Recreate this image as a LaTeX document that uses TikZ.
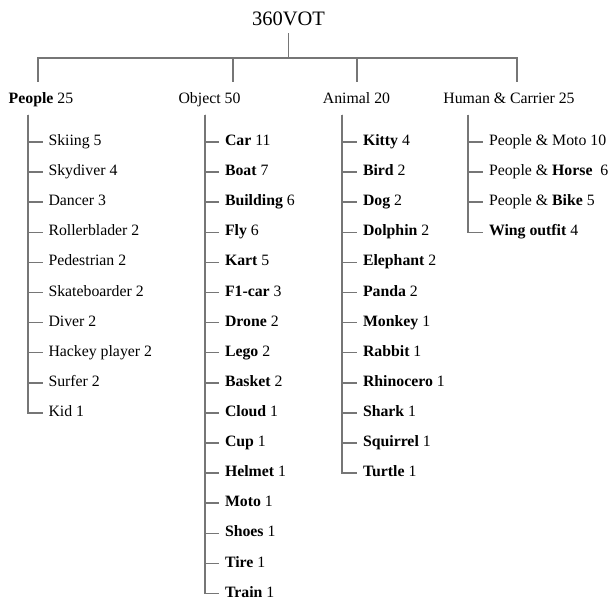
\documentclass[tikz,border=0pt]{standalone}
\usepackage{fontspec}
\setmainfont{Liberation Serif}
\definecolor{linegray}{RGB}{118,118,118}
\tikzset{
  branch/.style={draw=linegray, line width=1.5pt},
  leaf/.style={branch, shorten >=6pt},
  item/.style={anchor=base west, inner sep=0pt, outer sep=0pt},
  group/.style={anchor=base, inner sep=0pt, outer sep=0pt},
}
\begin{document}
\fontsize{15.8}{19}\selectfont
\begin{tikzpicture}[x=1pt, y=-1pt]
  \useasboundingbox (0,0) rectangle (610,601);
  \node[group, inner ysep=7pt, font=\fontsize{20.5}{24}\selectfont] (vot) at (288.5,26) {360VOT};
  \coordinate (bar) at (288.5,58);

  \node[group] (people) at (41,103.5) {\textbf{People} 25};
  \node[group] (object) at (209.5,103.5) {Object 50};
  \node[group] (animal) at (356.5,103.5) {Animal 20};
  \node[group] (human) at (509,103.5) {Human \& Carrier 25};

  \coordinate (people-top) at (38,82);
  \coordinate (object-top) at (233,82);
  \coordinate (animal-top) at (357,82);
  \coordinate (human-top) at (517,82);

  \coordinate (people-t) at (28,115);
  \coordinate (object-t) at (205,115);
  \coordinate (animal-t) at (342,115);
  \coordinate (human-t) at (468,115);

  \node[item] (skiing) at (48.5,145.6) {Skiing 5};
  \node[item] (skydiver) at (48.5,175.7) {Skydiver 4};
  \node[item] (dancer) at (48.5,205.8) {Dancer 3};
  \node[item] (roller) at (48.5,235.9) {Rollerblader 2};
  \node[item] (pedestrian) at (48.5,266.0) {Pedestrian 2};
  \node[item] (skate) at (48.5,296.1) {Skateboarder 2};
  \node[item] (diver) at (48.5,326.2) {Diver 2};
  \node[item] (hackey) at (48.5,356.3) {Hackey player 2};
  \node[item] (surfer) at (48.5,386.4) {Surfer 2};
  \node[item] (kid) at (48.5,416.5) {Kid 1};

  \node[item] (car) at (225,145.6) {\textbf{Car} 11};
  \node[item] (boat) at (225,175.7) {\textbf{Boat} 7};
  \node[item] (building) at (225,205.8) {\textbf{Building} 6};
  \node[item] (fly) at (225,235.9) {\textbf{Fly} 6};
  \node[item] (kart) at (225,266.0) {\textbf{Kart} 5};
  \node[item] (f1) at (225,296.1) {\textbf{F1-car} 3};
  \node[item] (drone) at (225,326.2) {\textbf{Drone} 2};
  \node[item] (lego) at (225,356.3) {\textbf{Lego} 2};
  \node[item] (basket) at (225,386.4) {\textbf{Basket} 2};
  \node[item] (cloud) at (225,416.5) {\textbf{Cloud} 1};
  \node[item] (cup) at (225,446.6) {\textbf{Cup} 1};
  \node[item] (helmet) at (225,476.7) {\textbf{Helmet} 1};
  \node[item] (moto) at (225,506.8) {\textbf{Moto} 1};
  \node[item] (shoes) at (225,536.9) {\textbf{Shoes} 1};
  \node[item] (tire) at (225,567.0) {\textbf{Tire} 1};
  \node[item] (train) at (225,597.1) {\textbf{Train} 1};

  \node[item] (kitty) at (363,145.6) {\textbf{Kitty} 4};
  \node[item] (bird) at (363,175.7) {\textbf{Bird} 2};
  \node[item] (dog) at (363,205.8) {\textbf{Dog} 2};
  \node[item] (dolphin) at (363,235.9) {\textbf{Dolphin} 2};
  \node[item] (elephant) at (363,266.0) {\textbf{Elephant} 2};
  \node[item] (panda) at (363,296.1) {\textbf{Panda} 2};
  \node[item] (monkey) at (363,326.2) {\textbf{Monkey} 1};
  \node[item] (rabbit) at (363,356.3) {\textbf{Rabbit} 1};
  \node[item] (rhino) at (363,386.4) {\textbf{Rhinocero} 1};
  \node[item] (shark) at (363,416.5) {\textbf{Shark} 1};
  \node[item] (squirrel) at (363,446.6) {\textbf{Squirrel} 1};
  \node[item] (turtle) at (363,476.7) {\textbf{Turtle} 1};

  \node[item] (pmoto) at (489,145.6) {People \& Moto 10};
  \node[item] (phorse) at (489,175.7) {People \& \textbf{Horse}\ \ 6};
  \node[item] (pbike) at (489,205.8) {People \& \textbf{Bike} 5};
  \node[item] (wing) at (489,235.9) {\textbf{Wing outfit} 4};

  \draw[branch] (vot.south) -- (bar);
  \draw[branch] (people-top) |- (bar) -| (human-top);
  \draw[branch] (object-top) -- (object-top |- bar);
  \draw[branch] (animal-top) -- (animal-top |- bar);

  \draw[leaf] (people-t) |- (skiing.mid west);
  \draw[leaf] (people-t) |- (skydiver.mid west);
  \draw[leaf] (people-t) |- (dancer.mid west);
  \draw[leaf] (people-t) |- (roller.mid west);
  \draw[leaf] (people-t) |- (pedestrian.mid west);
  \draw[leaf] (people-t) |- (skate.mid west);
  \draw[leaf] (people-t) |- (diver.mid west);
  \draw[leaf] (people-t) |- (hackey.mid west);
  \draw[leaf] (people-t) |- (surfer.mid west);
  \draw[leaf] (people-t) |- (kid.mid west);

  \draw[leaf] (object-t) |- (car.mid west);
  \draw[leaf] (object-t) |- (boat.mid west);
  \draw[leaf] (object-t) |- (building.mid west);
  \draw[leaf] (object-t) |- (fly.mid west);
  \draw[leaf] (object-t) |- (kart.mid west);
  \draw[leaf] (object-t) |- (f1.mid west);
  \draw[leaf] (object-t) |- (drone.mid west);
  \draw[leaf] (object-t) |- (lego.mid west);
  \draw[leaf] (object-t) |- (basket.mid west);
  \draw[leaf] (object-t) |- (cloud.mid west);
  \draw[leaf] (object-t) |- (cup.mid west);
  \draw[leaf] (object-t) |- (helmet.mid west);
  \draw[leaf] (object-t) |- (moto.mid west);
  \draw[leaf] (object-t) |- (shoes.mid west);
  \draw[leaf] (object-t) |- (tire.mid west);
  \draw[leaf] (object-t) |- (train.mid west);

  \draw[leaf] (animal-t) |- (kitty.mid west);
  \draw[leaf] (animal-t) |- (bird.mid west);
  \draw[leaf] (animal-t) |- (dog.mid west);
  \draw[leaf] (animal-t) |- (dolphin.mid west);
  \draw[leaf] (animal-t) |- (elephant.mid west);
  \draw[leaf] (animal-t) |- (panda.mid west);
  \draw[leaf] (animal-t) |- (monkey.mid west);
  \draw[leaf] (animal-t) |- (rabbit.mid west);
  \draw[leaf] (animal-t) |- (rhino.mid west);
  \draw[leaf] (animal-t) |- (shark.mid west);
  \draw[leaf] (animal-t) |- (squirrel.mid west);
  \draw[leaf] (animal-t) |- (turtle.mid west);

  \draw[leaf] (human-t) |- (pmoto.mid west);
  \draw[leaf] (human-t) |- (phorse.mid west);
  \draw[leaf] (human-t) |- (pbike.mid west);
  \draw[leaf] (human-t) |- (wing.mid west);
\end{tikzpicture}
\end{document}
